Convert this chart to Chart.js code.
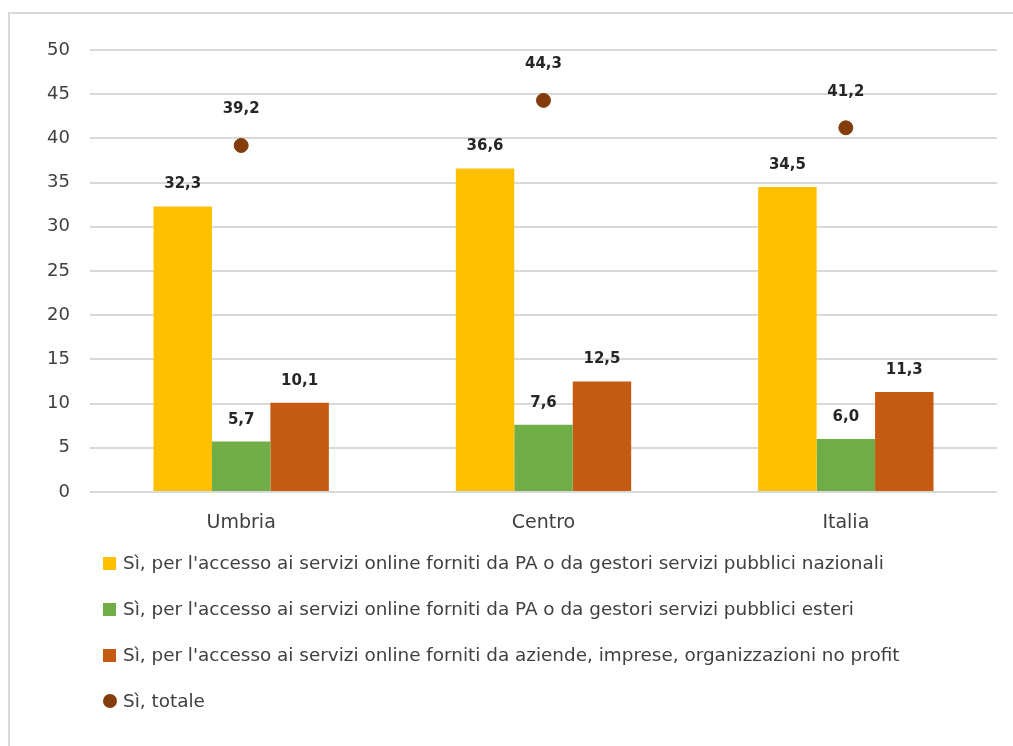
<!DOCTYPE html>
<html>
<head>
<meta charset="utf-8">
<script src="https://cdn.jsdelivr.net/npm/chart.js@4.4.1/dist/chart.umd.min.js"></script>
<style>
body{margin:0;background:#fff;}
#wrap{position:relative;width:1013px;height:746px;overflow:hidden;font-family:"DejaVu Sans",sans-serif;}
#frame{position:absolute;left:8px;top:12px;right:-10px;bottom:-10px;border-top:2px solid #d9d9d9;border-left:2px solid #d9d9d9;}
#chart{position:absolute;left:0;top:0;}
#legend{position:absolute;left:103px;top:540px;color:#404040;font-size:18.4px;}
#legend div{height:46px;line-height:46px;white-space:nowrap;}
#legend span.box{display:inline-block;width:13px;height:13px;margin-right:7px;vertical-align:-1px;}
#legend span.dot{display:inline-block;width:14px;height:14px;border-radius:50%;margin-right:6px;vertical-align:-1px;}
</style>
</head>
<body>
<div id="wrap">
<div id="frame"></div>
<canvas id="chart" width="1013" height="746"></canvas>
<div id="legend"></div>
</div>
<script>
// data
const categories=["Umbria","Centro","Italia"];
const nazionali=[32.3,36.6,34.5];
const esteri=[5.7,7.6,6.0];
const aziende=[10.1,12.5,11.3];
const totale=[39.2,44.3,41.2];
const seriesNames=[
	"Sì, per l'accesso ai servizi online forniti da PA o da gestori servizi pubblici nazionali",
	"Sì, per l'accesso ai servizi online forniti da PA o da gestori servizi pubblici esteri",
	"Sì, per l'accesso ai servizi online forniti da aziende, imprese, organizzazioni no profit",
	"Sì, totale"
];
const colors=["#FFC000","#70AD47","#C55A11","#843C0C"];

// value labels drawn above bars and points
const valueLabels={
	id:'valueLabels',
	afterDatasetsDraw(chart){
		const ctx=chart.ctx;
		ctx.save();
		ctx.font='bold 15px "DejaVu Sans"';
		ctx.fillStyle='#262626';
		ctx.textAlign='center';
		ctx.textBaseline='middle';
		chart.data.datasets.forEach(function(ds,i){
			const meta=chart.getDatasetMeta(i);
			meta.data.forEach(function(el,j){
				const txt=ds.data[j].toFixed(1).replace('.',',');
				const off=ds.type=='line'?36:22;
				ctx.fillText(txt,el.x,el.y-off);
			});
		});
		ctx.restore();
	}
};

const ctx=document.getElementById('chart').getContext('2d');
const myChart=new Chart(ctx,{
	type:'bar',
	data:{
		labels:categories,
		datasets:[
			{label:seriesNames[0],data:nazionali,backgroundColor:colors[0],order:2},
			{label:seriesNames[1],data:esteri,backgroundColor:colors[1],order:2},
			{label:seriesNames[2],data:aziende,backgroundColor:colors[2],order:2},
			{type:'line',label:seriesNames[3],data:totale,showLine:false,
			 pointRadius:7,pointBackgroundColor:colors[3],pointBorderColor:colors[3],order:1}
		]
	},
	options:{
		responsive:false,
		animation:false,
		categoryPercentage:0.58,
		barPercentage:1,
		layout:{padding:{top:50,right:16,left:0,bottom:0}},
		plugins:{legend:{display:false},tooltip:{enabled:false}},
		scales:{
			x:{
				grid:{display:false},
				border:{display:false},
				ticks:{color:'#404040',font:{family:'DejaVu Sans',size:19},padding:12},
				afterFit:function(s){s.height=254;}
			},
			y:{
				min:0,max:50,
				grid:{color:'#d9d9d9',lineWidth:2,drawTicks:false},
				border:{display:false},
				ticks:{stepSize:5,color:'#404040',font:{family:'DejaVu Sans',size:18},padding:20},
				afterFit:function(s){s.width=90;}
			}
		}
	},
	plugins:[valueLabels]
});

// legend in a vertical list
const legend=document.getElementById('legend');
seriesNames.forEach(function(name,i){
	const row=document.createElement('div');
	const mark=document.createElement('span');
	mark.className=i==3?'dot':'box';
	mark.style.background=colors[i];
	row.appendChild(mark);
	row.appendChild(document.createTextNode(name));
	legend.appendChild(row);
});
</script>
</body>
</html>
